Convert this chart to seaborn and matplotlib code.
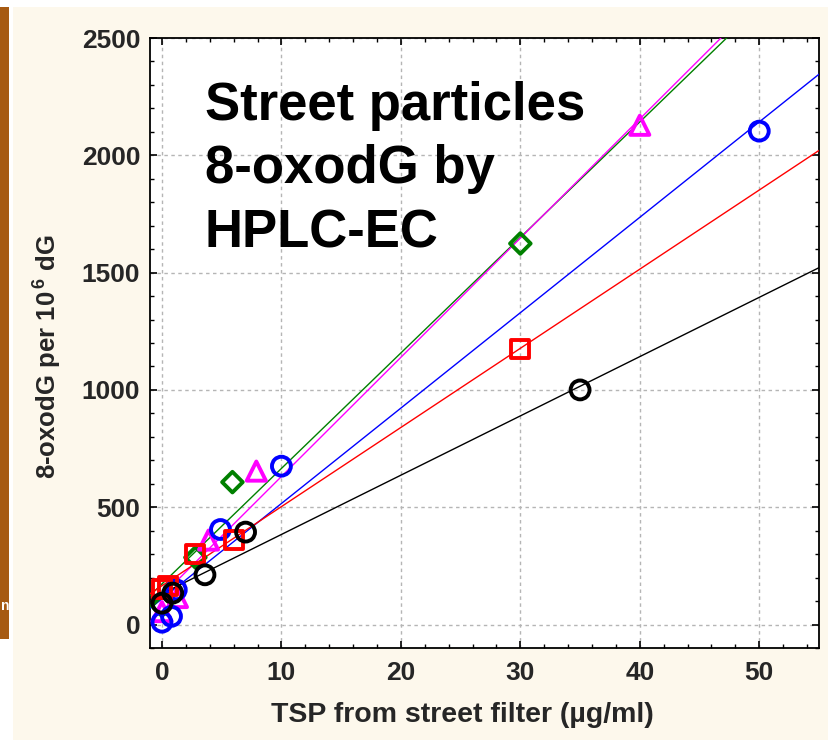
import numpy as np
import pandas as pd
import matplotlib
matplotlib.use("Agg")
import matplotlib.pyplot as plt
from matplotlib.patches import Rectangle
from matplotlib.ticker import MultipleLocator
import seaborn as sns

# ---- data ----
green_x = [0.0, 2.8, 5.9, 30.0]
green_y = [80, 286, 607, 1624]
magenta_x = [0.0, 1.3, 3.9, 7.9, 40.0]
magenta_y = [55, 115, 360, 654, 2128]
blue_x = [0.0, 0.8, 1.2, 4.9, 10.0, 50.0]
blue_y = [10, 35, 148, 405, 675, 2103]
red_x = [0.0, 0.5, 2.8, 6.0, 30.0]
red_y = [150, 165, 300, 362, 1175]
black_x = [0.0, 0.9, 3.6, 7.0, 35.0]
black_y = [91, 134, 212, 394, 1000]

x_ticks = [0, 10, 20, 30, 40, 50]
y_ticks = [0, 500, 1000, 1500, 2000, 2500]
title_lines = ["Street particles", "8-oxodG by", "HPLC-EC"]

sns.set_style("ticks")
plt.rcParams['font.family'] = ['Liberation Sans', 'DejaVu Sans']
plt.rcParams['mathtext.fontset'] = 'custom'
plt.rcParams['mathtext.rm'] = 'Liberation Sans'
plt.rcParams['mathtext.bf'] = 'Liberation Sans:bold'

W, H = 829, 740
fig = plt.figure(figsize=(W / 100, H / 100), dpi=100, facecolor='white')
# page background
fig.patches.append(Rectangle((13 / W, 0), 1 - 13 / W, 1 - 7 / H, transform=fig.transFigure,
                             facecolor='#FDF8EC', edgecolor='none', zorder=-10))
fig.patches.append(Rectangle((0, 1 - 639 / H), 9 / W, (639 - 7) / H, transform=fig.transFigure,
                             facecolor='#A65A12', edgecolor='none', zorder=-9))
fig.text(1 / W, 1 - 606 / H, 'n', color='white', fontsize=10, fontweight='bold',
         ha='left', va='center')

left, right, top, bottom = 150 / W, 819 / W, 1 - 38 / H, 1 - 648 / H
ax = fig.add_axes([left, bottom, right - left, top - bottom])
ax.set_facecolor('white')
ax.set_xlim(-1, 55)
ax.set_ylim(-100, 2500)

series = [
    (green_x, green_y, 'D', '#008000', 110),
    (magenta_x, magenta_y, '^', '#FF00FF', 190),
    (blue_x, blue_y, 'o', '#0000FF', 185),
    (red_x, red_y, 's', '#FF0000', 165),
    (black_x, black_y, 'o', '#000000', 185),
]
for xs, ys, mk, col, s in series:
    df = pd.DataFrame({'x': xs, 'y': ys})
    sns.regplot(data=df, x='x', y='y', ax=ax, ci=None, truncate=False, marker=mk,
                color=col,
                scatter_kws=dict(s=s, facecolors='none', edgecolors=col,
                                 linewidths=2.8, alpha=1, zorder=4),
                line_kws=dict(color=col, lw=1.0, zorder=3))

ax.set_xlim(-1, 55)
ax.set_ylim(-100, 2500)
ax.set_xticks(x_ticks)
ax.set_yticks(y_ticks)
ax.xaxis.set_minor_locator(MultipleLocator(2))
ax.yaxis.set_minor_locator(MultipleLocator(100))
ax.tick_params(which='both', direction='in', top=True, right=True, color='black')
ax.tick_params(which='major', length=5, width=1.2)
ax.tick_params(which='minor', length=3, width=1.0)
ax.tick_params(axis='y', which='major', pad=7)
ax.tick_params(axis='x', which='major', pad=9)
for lab in ax.get_xticklabels() + ax.get_yticklabels():
    lab.set_fontsize(19)
    lab.set_fontweight('bold')
for sp in ax.spines.values():
    sp.set_color('black')
    sp.set_linewidth(1.3)
ax.grid(True, which='major', color='#b5b5b5', linestyle=(0, (2.5, 2.5)), linewidth=1.0)
ax.set_axisbelow(True)

ax.set_xlabel('TSP from street filter (µg/ml)', fontsize=20.5, fontweight='bold')
ax.xaxis.set_label_coords((462 - 150) / 669, -(715 - 648) / 610)
ax.xaxis.label.set_va('center')
ax.set_ylabel(r'8-oxodG per 10$^{\,\mathbf{6}}$ dG', fontsize=18.5, fontweight='bold')
ax.yaxis.set_label_coords((47 - 150) / 669, (648 - 357) / 610)
ax.yaxis.label.set_va('center')

for line, py in zip(title_lines, [120, 183, 247]):
    fig.text(205 / W, 1 - py / H, line, fontsize=38, fontweight='bold',
             ha='left', va='baseline', color='black')

fig.savefig('out.png', dpi=100, facecolor=fig.get_facecolor())
